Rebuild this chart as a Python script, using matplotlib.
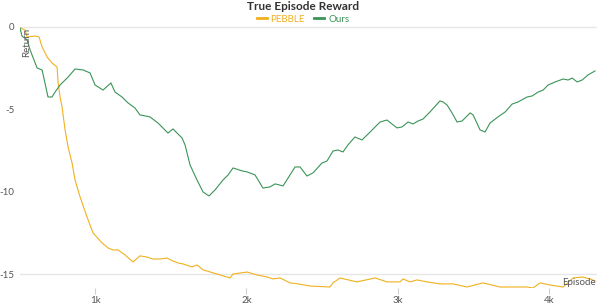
import matplotlib
matplotlib.use("Agg")
import matplotlib.pyplot as plt
from matplotlib.lines import Line2D

plt.rcParams['font.family'] = ['Lato', 'DejaVu Sans']

title = "True Episode Reward"
series_names = ["PEBBLE", "Ours"]
colors = ["#f0b01f", "#3a9458"]

ours_ep = [504, 517, 551, 571, 617, 650, 669, 689, 716, 736, 769, 822, 868, 921, 967, 1000,
           1053, 1105, 1132, 1178, 1218, 1264, 1297, 1363, 1416, 1482, 1515, 1575, 1595, 1628,
           1674, 1714, 1753, 1793, 1846, 1879, 1912, 1972, 2005, 2058, 2110, 2157, 2190, 2243,
           2276, 2322, 2355, 2401, 2441, 2500, 2533, 2573, 2606, 2639, 2672, 2718, 2765, 2818,
           2884, 2930, 2996, 3029, 3069, 3102, 3135, 3168, 3214, 3280, 3300, 3327, 3360, 3393,
           3426, 3479, 3499, 3545, 3578, 3611, 3664, 3711, 3757, 3797, 3856, 3889, 3929, 3962,
           3995, 4041, 4094, 4127, 4154, 4187, 4220, 4259, 4305]
ours_val = [-0.06, -0.55, -0.79, -1.40, -2.49, -2.61, -3.40, -4.25, -4.25, -3.95, -3.52, -3.04,
            -2.55, -2.61, -2.79, -3.52, -3.83, -3.40, -3.95, -4.25, -4.61, -4.92, -5.34, -5.46,
            -5.83, -6.44, -6.19, -6.74, -7.16, -8.38, -9.29, -10.02, -10.26, -9.90, -9.29, -8.99,
            -8.56, -8.74, -8.80, -8.99, -9.78, -9.71, -9.53, -9.65, -9.17, -8.50, -8.50, -9.05,
            -8.86, -8.26, -8.14, -7.53, -7.47, -7.59, -7.16, -6.68, -6.86, -6.38, -5.77, -5.65,
            -6.13, -6.07, -5.77, -5.89, -5.71, -5.59, -5.16, -4.49, -4.55, -4.74, -5.22, -5.77,
            -5.71, -5.22, -5.34, -6.25, -6.38, -5.83, -5.46, -5.16, -4.68, -4.55, -4.25, -4.19,
            -3.95, -3.83, -3.52, -3.34, -3.16, -3.22, -3.10, -3.34, -3.22, -2.91, -2.67]

pebble_ep = [504, 537, 551, 604, 630, 650, 683, 716, 749, 756, 769, 782, 802, 822, 848, 868,
             901, 947, 987, 1046, 1086, 1119, 1152, 1198, 1251, 1297, 1344, 1383, 1430, 1476,
             1515, 1549, 1582, 1641, 1674, 1714, 1806, 1892, 1912, 2005, 2071, 2137, 2177, 2223,
             2289, 2342, 2421, 2553, 2573, 2619, 2731, 2851, 2930, 3016, 3036, 3082, 3128, 3194,
             3280, 3366, 3459, 3565, 3677, 3763, 3856, 3895, 3942, 4008, 4094, 4160, 4220, 4273,
             4305]
pebble_val = [-0.06, -0.18, -0.61, -0.55, -0.61, -1.21, -1.82, -2.19, -2.43, -3.40, -4.25,
              -4.86, -6.25, -7.29, -8.26, -9.29, -10.32, -11.54, -12.51, -13.11, -13.42, -13.54,
              -13.54, -13.84, -14.27, -13.90, -13.97, -14.09, -14.09, -14.03, -14.21, -14.33,
              -14.39, -14.57, -14.45, -14.75, -15.00, -15.24, -15.00, -14.88, -15.06, -15.18,
              -15.30, -15.24, -15.54, -15.60, -15.73, -15.79, -15.54, -15.24, -15.48, -15.24,
              -15.48, -15.48, -15.30, -15.48, -15.36, -15.48, -15.60, -15.60, -15.79, -15.54,
              -15.79, -15.79, -15.79, -15.85, -15.54, -15.67, -15.79, -15.24, -15.18, -15.30,
              -15.42]

y_ticks = [0, -5, -10, -15]
y_grid = [0, -15]
x_ticks = [1000, 2000, 3000, 4000]
x_ticklabels = ["1k", "2k", "3k", "4k"]

W, H = 606, 304
fig = plt.figure(figsize=(W / 100, H / 100), dpi=100)
left, right, top, bottom = 20, 597, 25, 288
ax = fig.add_axes([left / W, 1 - bottom / H, (right - left) / W, (bottom - top) / H])

for g in y_grid:
    ax.axhline(g, color="#e6e6e6", lw=1.0, zorder=0)

ax.plot(pebble_ep, pebble_val, color=colors[0], lw=0.8)
ax.plot(ours_ep, ours_val, color=colors[1], lw=0.8)

ax.set_xlim(504, 4318)
ax.set_ylim(-15.85, 0.12)
for s in ax.spines.values():
    s.set_visible(False)

ax.set_yticks(y_ticks)
ax.set_yticklabels([str(v) for v in y_ticks])
ax.tick_params(axis="y", length=0, pad=4, labelsize=7, labelcolor="#555555")
ax.set_xticks(x_ticks)
ax.set_xticklabels(x_ticklabels)
ax.tick_params(axis="x", length=4, width=0.8, color="#d0d0d0", pad=1.5,
               labelsize=7, labelcolor="#555555")

ax.text(0.004, 0.99, "Return", rotation=90, transform=ax.transAxes, ha="left", va="top",
        fontsize=7, color="#555555")
ax.text(0.998, 0.02, "Episode", transform=ax.transAxes, ha="right", va="center",
        fontsize=7, color="#555555")

fig.text(0.5, 1 - 6 / H, title, ha="center", va="center", fontsize=8.5, fontweight="bold",
         color="#333333")

handles = [Line2D([], [], color=c, lw=2) for c in colors]
leg = fig.legend(handles, series_names, loc="center", bbox_to_anchor=(0.5, 1 - 19 / H),
                 ncol=2, frameon=False, fontsize=7, handlelength=1.0, handletextpad=0.4,
                 columnspacing=1.0, borderaxespad=0, borderpad=0)
for t, c in zip(leg.get_texts(), colors):
    t.set_color(c)

fig.savefig("out.png", dpi=100)
